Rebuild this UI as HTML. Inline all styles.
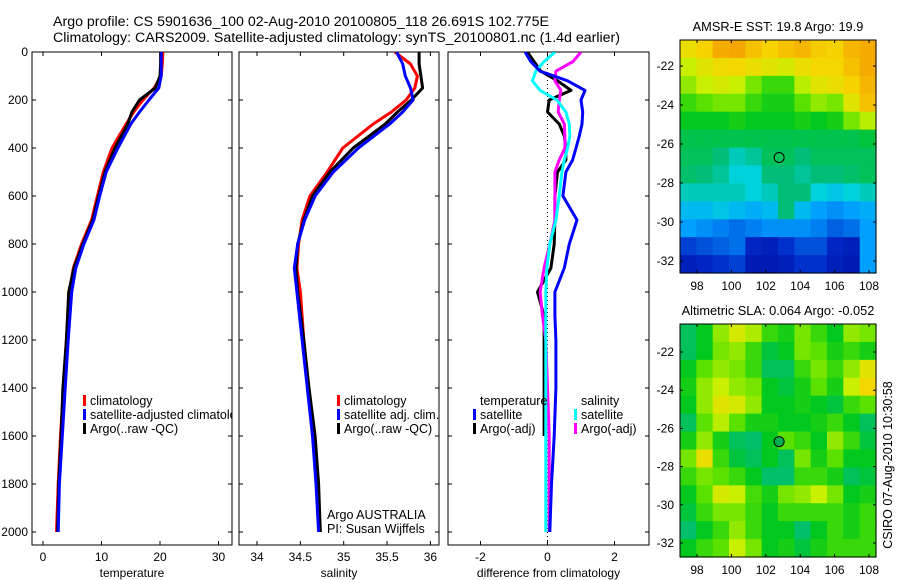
<!DOCTYPE html>
<html><head><meta charset="utf-8">
<style>
html,body{margin:0;padding:0;background:#fff;}
svg{display:block;font-family:"Liberation Sans",sans-serif;}
</style></head>
<body>
<svg id="fig" width="900" height="580" viewBox="0 0 900 580" xmlns="http://www.w3.org/2000/svg">
<text x="53" y="26" font-size="14.2">Argo profile: CS 5901636_100 02-Aug-2010 20100805_118 26.691S 102.775E</text>
<text x="53" y="42" font-size="14.2">Climatology: CARS2009. Satellite-adjusted climatology: synTS_20100801.nc (1.4d earlier)</text>
<defs>
<clipPath id="c1"><rect x="32" y="52" width="200" height="493"/></clipPath>
<clipPath id="c2"><rect x="239" y="52" width="200" height="493"/></clipPath>
<clipPath id="c3"><rect x="448" y="52" width="201" height="493"/></clipPath>
</defs>
<g id="layer"></g>
<text transform="translate(892,465) rotate(-90)" text-anchor="middle" font-size="12.5">CSIRO 07-Aug-2010 10:30:58</text>
</svg>
<script>
// ---- profile data ----
const depths = [0,50,100,150,200,250,300,400,500,600,700,800,900,1000,1200,1400,1600,1800,2000];
const tempClim = [20.5,20.4,20.2,19.0,17.1,15.5,14.2,11.8,10.3,9.3,8.3,6.6,5.2,4.5,4.0,3.5,3.0,2.6,2.3];
const tempSat  = [20.2,20.2,20.2,19.8,18.1,16.5,15.0,12.8,10.8,9.7,8.7,7.0,5.6,4.9,4.3,3.8,3.3,2.8,2.6];
const tempArgo = [20.1,20.1,20.0,19.2,16.5,15.2,14.5,12.3,10.6,9.5,8.5,6.8,5.3,4.4,4.0,3.4,3.1,2.7,2.5];
const salClim = [35.59,35.77,35.85,35.82,35.72,35.55,35.34,34.99,34.81,34.61,34.52,34.48,34.46,34.5,34.54,34.59,34.65,34.7,34.73];
const salSat  = [35.61,35.68,35.71,35.77,35.8,35.68,35.53,35.17,34.88,34.67,34.55,34.47,34.43,34.46,34.52,34.58,34.64,34.68,34.71];
const salArgo = [35.87,35.87,35.89,35.91,35.78,35.62,35.48,35.11,34.84,34.64,34.54,34.47,34.45,34.47,34.54,34.6,34.67,34.71,34.73];
const diffDepths = [0,40,80,120,160,200,250,300,350,400,450,500,600,700,800,900,1000,1100,1200,1400,1600,1800,2000];
const diffTempSat  = [-0.67,-0.5,-0.22,0.6,1.12,1.0,1.05,1.03,0.95,0.85,0.75,0.55,0.46,0.88,0.65,0.5,0.22,0.22,0.25,0.25,0.2,0.12,0.07];
const diffTempArgo = [-0.6,-0.4,-0.2,0.3,0.7,0.05,0.0,0.35,0.5,0.55,0.55,0.3,0.22,0.22,0.2,0.1,-0.3,-0.1,-0.1,-0.1,-0.1,null,null];
const diffSalSat   = [0.22,-0.1,-0.35,-0.45,-0.22,0.28,0.55,0.65,0.67,0.6,0.5,0.43,0.35,0.25,0.07,-0.02,-0.05,-0.05,-0.05,-0.05,-0.05,-0.05,-0.05];
const diffSalArgo  = [1.0,0.76,0.25,0.22,0.4,0.35,0.32,0.5,0.52,0.52,0.35,0.22,0.22,0.22,0.07,-0.1,-0.22,-0.15,-0.05,0.0,0.05,0.05,0.05];
const depthTicks = [0,200,400,600,800,1000,1200,1400,1600,1800,2000];
const tempTicks = [0,10,20,30];
const salTicks = [34,34.5,35,35.5,36];
const salTickLabels = ["34","34.5","35","35.5","36"];
const diffTicks = [-2,0,2];
// ---- map data (rows top=-20.6 to bottom=-32.7, cols 97..108.4) ----
const latTicks = [-22,-24,-26,-28,-30,-32];
const lonTicks = [98,100,102,104,106,108];
const sstGrid = [
[0.72,0.75,0.82,0.83,0.78,0.75,0.78,0.8,0.76,0.75,0.8,0.82],
[0.66,0.7,0.73,0.74,0.72,0.7,0.68,0.72,0.74,0.74,0.78,0.82],
[0.62,0.66,0.68,0.66,0.6,0.55,0.55,0.65,0.7,0.72,0.75,0.8],
[0.55,0.58,0.6,0.6,0.55,0.52,0.52,0.58,0.62,0.6,0.7,0.78],
[0.5,0.5,0.5,0.52,0.5,0.5,0.5,0.52,0.5,0.52,0.6,0.65],
[0.47,0.47,0.47,0.47,0.47,0.47,0.47,0.47,0.47,0.47,0.47,0.48],
[0.46,0.46,0.44,0.4,0.42,0.46,0.46,0.44,0.46,0.46,0.46,0.46],
[0.45,0.44,0.42,0.38,0.38,0.44,0.44,0.42,0.44,0.44,0.45,0.46],
[0.4,0.4,0.4,0.4,0.38,0.4,0.44,0.44,0.38,0.36,0.38,0.4],
[0.34,0.34,0.36,0.34,0.32,0.34,0.44,0.34,0.3,0.28,0.3,0.32],
[0.3,0.28,0.26,0.24,0.26,0.28,0.28,0.28,0.26,0.22,0.24,0.3],
[0.18,0.2,0.22,0.24,0.14,0.12,0.16,0.2,0.2,0.14,0.12,0.3],
[0.12,0.14,0.16,0.18,0.1,0.1,0.12,0.16,0.16,0.12,0.1,0.3]];
const slaGrid = [
[0.46,0.5,0.62,0.68,0.64,0.55,0.52,0.6,0.55,0.5,0.62,0.6],
[0.46,0.5,0.6,0.62,0.55,0.48,0.5,0.6,0.58,0.52,0.55,0.52],
[0.5,0.58,0.62,0.6,0.55,0.46,0.46,0.55,0.6,0.55,0.62,0.7],
[0.52,0.62,0.66,0.62,0.6,0.5,0.48,0.52,0.58,0.52,0.66,0.74],
[0.5,0.62,0.7,0.68,0.62,0.5,0.5,0.52,0.5,0.48,0.55,0.58],
[0.46,0.58,0.65,0.58,0.52,0.52,0.5,0.5,0.52,0.55,0.5,0.46],
[0.52,0.62,0.52,0.46,0.45,0.5,0.58,0.55,0.5,0.62,0.55,0.48],
[0.6,0.72,0.55,0.48,0.46,0.5,0.46,0.6,0.52,0.58,0.5,0.5],
[0.55,0.6,0.58,0.55,0.5,0.45,0.45,0.55,0.55,0.52,0.46,0.48],
[0.5,0.58,0.68,0.66,0.56,0.52,0.6,0.62,0.66,0.6,0.5,0.52],
[0.48,0.55,0.6,0.6,0.55,0.5,0.55,0.55,0.55,0.55,0.52,0.55],
[0.45,0.5,0.55,0.62,0.55,0.5,0.5,0.45,0.5,0.55,0.52,0.55],
[0.5,0.55,0.58,0.66,0.6,0.5,0.52,0.48,0.52,0.55,0.55,0.55]];
const argoLon = 102.775, argoLat = -26.691;

const NS='http://www.w3.org/2000/svg';
const L=document.getElementById('layer');
function mk(tag,attrs,parent){const e=document.createElementNS(NS,tag);for(const k in attrs)e.setAttribute(k,attrs[k]);(parent||L).appendChild(e);return e;}
function txt(x,y,s,anchor,size,parent){const t=mk('text',{x:x,y:y,'font-size':size||12,'text-anchor':anchor||'start'},parent);t.textContent=s;return t;}
const yD = d => 52 + d*0.24;

function panel(x0,x1,xs,ticks,labels,xlabel,name,showY){
  const g=mk('g',{});
  
  
  const fr=mk('rect',{x:x0,y:52,width:x1-x0,height:493,fill:'none',stroke:'#000','stroke-width':1},g);
  
  
  depthTicks.forEach(d=>{
    mk('line',{x1:x0,x2:x0+4,y1:yD(d),y2:yD(d),stroke:'#000'},g);
    mk('line',{x1:x1-4,x2:x1,y1:yD(d),y2:yD(d),stroke:'#000'},g);
    if(showY){const t=txt(28,yD(d)+4,String(d),'end',12,g);
      
      }
  });
  ticks.forEach((v,i)=>{
    const x=xs(v);
    mk('line',{x1:x,x2:x,y1:541,y2:545,stroke:'#000'},g);
    mk('line',{x1:x,x2:x,y1:52,y2:56,stroke:'#000'},g);
    const t=txt(x,561,labels[i],'middle',12,g);
    
    
  });
  const xl=txt((x0+x1)/2,577,xlabel,'middle',12,g);
  
  
}
function line(vals,dep,xs,color,clip,name){
  let d='',pen=false;
  vals.forEach((v,i)=>{ if(v===null){pen=false;return;} d+=(pen?'L':'M')+xs(v).toFixed(1)+','+yD(dep[i]).toFixed(1); pen=true;});
  const p=mk('path',{d:d,fill:'none',stroke:color,'stroke-width':3,'clip-path':'url(#'+clip+')','stroke-linejoin':'round'});
  
  
}
function legend(x,y,items,clip){
  items.forEach((it,i)=>{
    const yy=y+i*14;
    if(it.c) mk('rect',{x:x,y:yy-10,width:3,height:11,fill:it.c});
    const t=txt(x+7,yy,it.t,'start',12.5);
    if(clip) t.setAttribute('clip-path','url(#'+clip+')');
    
    
  });
}
// temperature panel
const xT=v=>43+5.85*v;
panel(32,232,xT,tempTicks,tempTicks.map(String),'temperature','temperature-panel',true);
line(tempClim,depths,xT,'#f00','c1','temp-climatology-line');
line(tempArgo,depths,xT,'#000','c1','temp-argo-line');
line(tempSat,depths,xT,'#00f','c1','temp-satellite-line');
legend(83,405,[{c:'#f00',t:'climatology'},{c:'#00f',t:'satellite-adjusted climatology'},{c:'#000',t:'Argo(..raw -QC)'}],'c1');
// salinity panel
const xS=v=>257+86.7*(v-34);
panel(239,439,xS,salTicks,salTickLabels,'salinity','salinity-panel',false);
line(salClim,depths,xS,'#f00','c2','sal-climatology-line');
line(salArgo,depths,xS,'#000','c2','sal-argo-line');
line(salSat,depths,xS,'#00f','c2','sal-satellite-line');
legend(337,405,[{c:'#f00',t:'climatology'},{c:'#00f',t:'satellite adj. clim.'},{c:'#000',t:'Argo(..raw -QC)'}]);
const a1=txt(327,519,'Argo AUSTRALIA','start',12.5);  
const a2=txt(327,533,'PI: Susan Wijffels','start',12.5);  
// difference panel
const xDf=v=>547.5+33.5*v;
panel(448,649,xDf,diffTicks,diffTicks.map(String),'difference from climatology','difference-panel',false);
const zl=mk('line',{x1:xDf(0),x2:xDf(0),y1:52,y2:545,stroke:'#000','stroke-dasharray':'1,3'});
 
line(diffTempArgo,diffDepths,xDf,'#000','c3','diff-temp-argo-line');
line(diffSalArgo,diffDepths,xDf,'#f0f','c3','diff-sal-argo-line');
line(diffSalSat,diffDepths,xDf,'#0ff','c3','diff-sal-satellite-line');
line(diffTempSat,diffDepths,xDf,'#00f','c3','diff-temp-satellite-line');
legend(473,405,[{c:null,t:'temperature'},{c:'#00f',t:'satellite'},{c:'#000',t:'Argo(-adj)'}]);
legend(574,405,[{c:null,t:'salinity'},{c:'#0ff',t:'satellite'},{c:'#f0f',t:'Argo(-adj)'}]);

// colormap
const stops=[[0,[0,0,130]],[0.15,[0,40,200]],[0.3,[0,160,255]],[0.38,[0,210,220]],[0.44,[0,190,120]],[0.5,[0,200,30]],[0.58,[90,225,0]],[0.66,[200,240,0]],[0.74,[245,215,0]],[0.84,[245,160,0]],[1,[220,80,0]]];
function cmap(v){for(let i=1;i<stops.length;i++){if(v<=stops[i][0]){const [a,ca]=stops[i-1],[b,cb]=stops[i];const f=(v-a)/(b-a);return 'rgb('+ca.map((c,k)=>Math.round(c+f*(cb[k]-c))).join(',')+')';}}return 'rgb(220,80,0)';}
function map(grid,x0,y0,w,h,lat22y,lat32y,title,name,filledCircle){
  const g=mk('g',{});
  
  
  const rows=grid.length, cols=grid[0].length, cw=w/cols, ch=h/rows;
  grid.forEach((row,r)=>row.forEach((v,c)=>{
    const cell=mk('rect',{x:(x0+c*cw).toFixed(2),y:(y0+r*ch).toFixed(2),width:(cw+0.6).toFixed(2),height:(ch+0.6).toFixed(2),fill:cmap(v)},g);
    
    
  }));
  mk('rect',{x:x0,y:y0,width:w,height:h,fill:'none',stroke:'#000'},g);
  const lonX=l=>697+(l-98)*17.2;
  const latY=l=>lat22y+(-22-l)*(lat32y-lat22y)/10;
  lonTicks.forEach(l=>{const x=lonX(l);mk('line',{x1:x,x2:x,y1:y0+h-3,y2:y0+h,stroke:'#000'},g);mk('line',{x1:x,x2:x,y1:y0,y2:y0+3,stroke:'#000'},g);
    const t=txt(x,y0+h+17,String(l),'middle',12,g);  });
  latTicks.forEach(l=>{const y=latY(l);mk('line',{x1:x0,x2:x0+3,y1:y,y2:y,stroke:'#000'},g);mk('line',{x1:x0+w-3,x2:x0+w,y1:y,y2:y,stroke:'#000'},g);
    const t=txt(x0-6,y+4,String(l),'end',12,g);  });
  const circ=mk('circle',{cx:lonX(argoLon),cy:latY(argoLat),r:5,fill:filledCircle?'#00b050':'none',stroke:'#000'},g);
  
  
  const tt=txt(x0+w/2,y0-9,title,'middle',12.8,g);
  
  
}
map(sstGrid,680,40,196,233,66,261,'AMSR-E SST: 19.8 Argo: 19.9','sst-map',false);
map(slaGrid,680,324,196,233,352,543,'Altimetric SLA: 0.064 Argo: -0.052','sla-map',true);
</script>
</body></html>
